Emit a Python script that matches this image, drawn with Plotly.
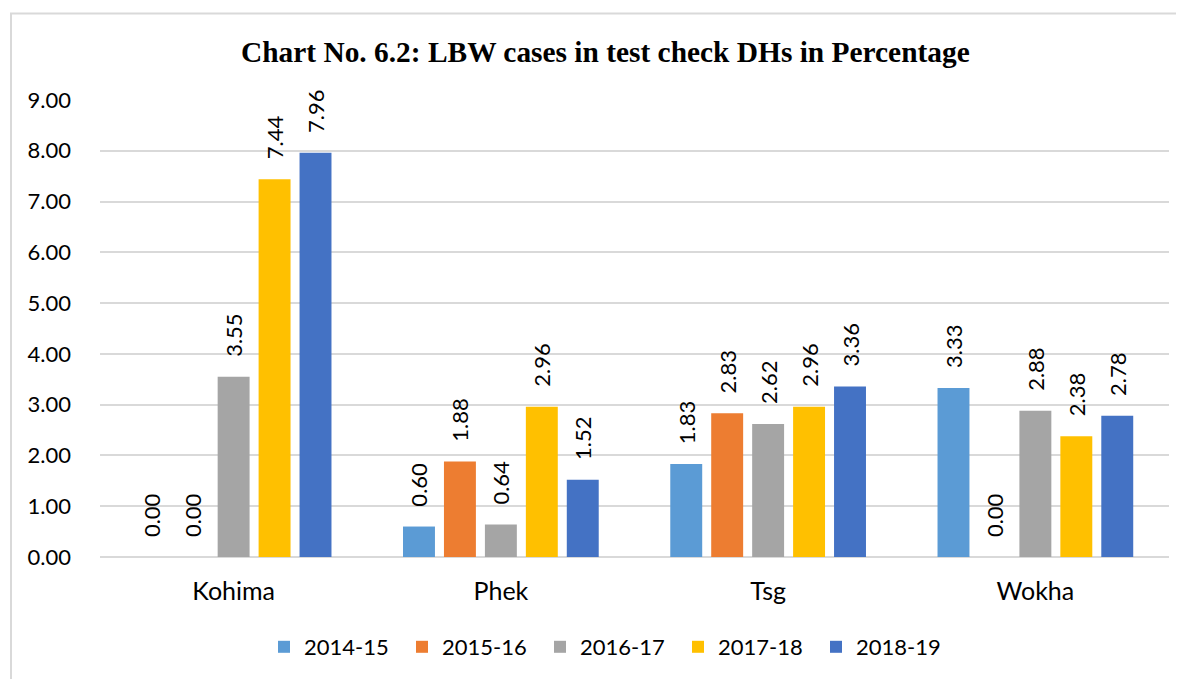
import plotly.graph_objects as go

categories = ["Kohima", "Phek", "Tsg", "Wokha"]
series_names = ["2014-15", "2015-16", "2016-17", "2017-18", "2018-19"]
v_2014_15 = [0.00, 0.60, 1.83, 3.33]
v_2015_16 = [0.00, 1.88, 2.83, 0.00]
v_2016_17 = [3.55, 0.64, 2.62, 2.88]
v_2017_18 = [7.44, 2.96, 2.96, 2.38]
v_2018_19 = [7.96, 1.52, 3.36, 2.78]
series_values = [v_2014_15, v_2015_16, v_2016_17, v_2017_18, v_2018_19]
colors = ["#5B9BD5", "#ED7D31", "#A5A5A5", "#FFC000", "#4472C4"]
y_ticks = [0, 1, 2, 3, 4, 5, 6, 7, 8, 9]

FONT = "Lato"
pad = "\u00a0\u00a0\u00a0"

fig = go.Figure()
for name, vals, col in zip(series_names, series_values, colors):
    fig.add_trace(go.Bar(
        name=name, x=categories, y=vals, marker_color=col,
        marker_line_width=0,
        text=[pad + f"{v:.2f}" for v in vals],
        textposition="outside", textangle=-90, constraintext="none",
        textfont=dict(family=FONT, size=22, color="#000000"),
        cliponaxis=False,
    ))

OFF = 8  # page body margin
W, H = 1184 - OFF, 679 - OFF
# plot area in screen pixels
SX0, SX1, SY0, SY1 = 100, 1169, 100, 557
L, R, T, B = SX0 - OFF, W - (SX1 - OFF), SY0 - OFF, H - (SY1 - OFF)
pw, ph = W - L - R, H - T - B

def px_x(x):
    return (x - OFF - L) / pw

def px_y(y):
    return (H - B - (y - OFF)) / ph

fig.update_layout(
    width=W, height=H,
    margin=dict(l=L, r=R, t=T, b=B, autoexpand=False),
    paper_bgcolor="white", plot_bgcolor="white",
    barmode="group", bargap=0.234, bargroupgap=0.22,
    font=dict(family=FONT, size=22, color="#000000"),
    showlegend=True,
    legend=dict(orientation="h", x=px_x(609), xanchor="center",
                y=px_y(647), yanchor="middle",
                font=dict(family=FONT, size=22, color="#000000"),
                itemwidth=30, entrywidth=93, tracegroupgap=0),
    shapes=[dict(type="rect", xref="paper", yref="paper",
                 x0=px_x(11), x1=px_x(1300), y0=px_y(800), y1=px_y(13.5),
                 line=dict(color="#D9D9D9", width=2), layer="below")],
    annotations=[dict(text="<b>Chart No. 6.2: LBW cases in test check DHs in Percentage</b>",
                      xref="paper", yref="paper", x=px_x(605), y=px_y(52),
                      xanchor="center", yanchor="middle", showarrow=False,
                      font=dict(family="Liberation Serif", size=29.4, color="#000000"))],
)
fig.update_xaxes(showgrid=False, showline=False, ticks="",
                 ticklabelstandoff=17,
                 tickfont=dict(family=FONT, size=25, color="#000000"))
fig.update_yaxes(range=[0, 9], tickvals=y_ticks,
                 ticktext=[f"{v:.2f}" for v in y_ticks],
                 showgrid=True, gridcolor="#D9D9D9", gridwidth=1.5,
                 zeroline=True, zerolinecolor="#D9D9D9", zerolinewidth=1.5,
                 showline=False, ticks="", ticklabelstandoff=28,
                 tickfont=dict(family=FONT, size=22, color="#000000"))

fig.write_html("out.html")
